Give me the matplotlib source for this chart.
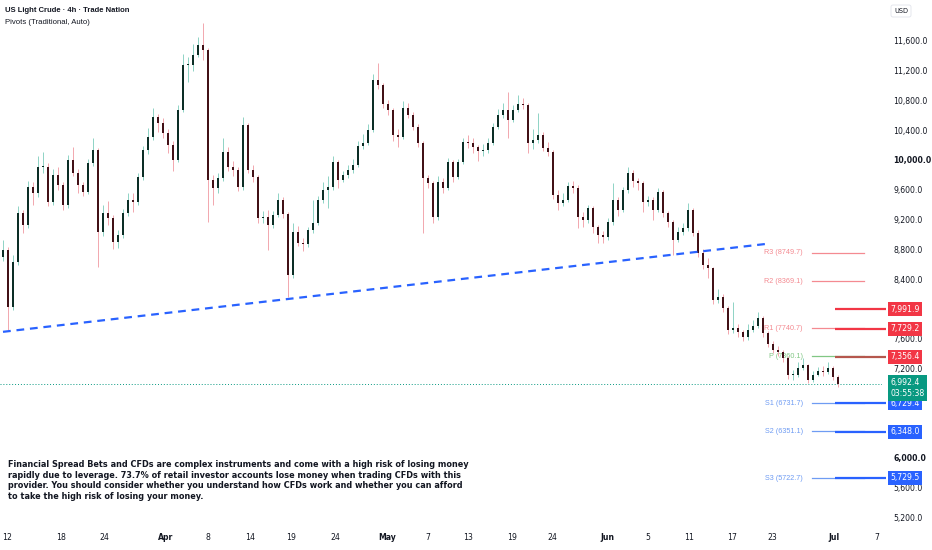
import matplotlib
matplotlib.use("Agg")
import matplotlib.pyplot as plt
import matplotlib.transforms as mtransforms
import numpy as np

# 4h candles, one every ~5px
first_open = 8700
closes = [8790, 8024, 8629, 9287, 9126, 9637, 9556, 9906, 9906, 9435,
          9798, 9664, 9395, 10000, 9825, 9664, 9570, 9960, 10134, 9032,
          9287, 9220, 8898, 8992, 9287, 9462, 9435, 9771, 10134, 10309,
          10578, 10498, 10363, 10202, 10000, 10672, 11277, 11277, 11412, 11546,
          11479, 9731, 9624, 9758, 10108, 9906, 9866, 9637, 10471, 9866,
          9771, 9220, 9234, 9126, 9261, 9462, 9274, 8454, 9032, 8884,
          8871, 9059, 9153, 9462, 9597, 9637, 9973, 9731, 9798, 9866,
          9933, 10188, 10229, 10403, 11076, 11008, 10753, 10672, 10336, 10309,
          10699, 10605, 10444, 10229, 9758, 9691, 9234, 9704, 9624, 9973,
          9771, 9973, 10242, 10229, 10175, 10121, 10134, 10229, 10444, 10605,
          10672, 10538, 10672, 10753, 10740, 10229, 10269, 10336, 10162, 10108,
          9530, 9422, 9462, 9650, 9624, 9234, 9193, 9355, 9099, 8992,
          8965, 9166, 9462, 9328, 9597, 9825, 9718, 9691, 9435, 9462,
          9328, 9570, 9287, 9166, 8924, 9032, 9086, 9328, 9019, 8750,
          8588, 8548, 8118, 8158, 8010, 7714, 7741, 7688, 7620, 7714,
          7768, 7876, 7674, 7527, 7446, 7419, 7338, 7109, 7109, 7204,
          7244, 7042, 7109, 7163, 7150, 7204, 7082, 6992.4]
highs = [8920, 8830, 8720, 9380, 9330, 9720, 9700, 10050, 10110, 9960,
         9880, 9900, 9700, 10070, 10180, 9880, 9700, 10020, 10296, 10160,
         9400, 9450, 9260, 9060, 9340, 9560, 9560, 9820, 10190, 10430,
         10700, 10620, 10560, 10420, 10250, 10740, 11420, 11390, 11560, 11650,
         11842, 11500, 9800, 9820, 10300, 10180, 9990, 9900, 10578, 10500,
         9930, 9800, 9320, 9330, 9320, 9560, 9500, 9300, 9150, 9110,
         8950, 9100, 9460, 9520, 9700, 9780, 10060, 10000, 9850, 9930,
         10020, 10260, 10350, 10480, 11150, 11304, 11040, 10800, 10700, 10420,
         10790, 10760, 10640, 10480, 10260, 9800, 9720, 9780, 9760, 10030,
         10000, 10010, 10300, 10330, 10290, 10200, 10210, 10290, 10500, 10680,
         10760, 10914, 10740, 10880, 10830, 10770, 10420, 10632, 10380, 10240,
         10130, 9600, 9560, 9700, 9720, 9660, 9300, 9400, 9380, 9130,
         9050, 9220, 9691, 9500, 9640, 9906, 9860, 9760, 9720, 9520,
         9500, 9620, 9600, 9320, 9200, 9100, 9150, 9420, 9350, 9060,
         8800, 8680, 8560, 8260, 8200, 8040, 8091, 7800, 7720, 7800,
         7850, 7956, 7900, 7700, 7560, 7500, 7450, 7360, 7180, 7280,
         7340, 7260, 7160, 7220, 7230, 7280, 7230, 7110]
lows = [8640, 7714, 7980, 8590, 9020, 9090, 9400, 9500, 9820, 9380,
        9400, 9600, 9330, 9360, 9780, 9560, 9510, 9540, 9920, 8562,
        8980, 9120, 8800, 8820, 8950, 9250, 9300, 9400, 9730, 10080,
        10270, 10380, 10300, 10100, 9850, 9970, 10640, 11050, 11200, 11380,
        11350, 9166, 9400, 9560, 9720, 9850, 9780, 9580, 9600, 9820,
        9700, 9150, 9150, 8790, 9090, 9230, 9220, 8160, 8420, 8840,
        8780, 8830, 9020, 9120, 9420, 9350, 9600, 9630, 9700, 9760,
        9830, 9900, 10150, 10200, 10380, 10950, 10700, 10600, 10250, 10180,
        10280, 10560, 10400, 10180, 9019, 9620, 9153, 9200, 9560, 9600,
        9700, 9740, 9940, 10160, 10100, 9980, 10060, 10100, 10200, 10420,
        10560, 10300, 10510, 10640, 10680, 10100, 10150, 10230, 10120, 10050,
        9470, 9330, 9380, 9430, 9560, 9080, 9100, 9150, 9020, 8880,
        8884, 8930, 9130, 9250, 9300, 9560, 9640, 9600, 9300, 9380,
        9200, 9300, 9240, 9100, 8723, 8900, 8990, 9050, 8980, 8700,
        8540, 8413, 8060, 8080, 7950, 7660, 7680, 7620, 7560, 7580,
        7690, 7740, 7620, 7480, 7400, 7370, 7290, 7060, 7040, 7080,
        7180, 7000, 7020, 7090, 7100, 7120, 7040, 6950]

# time axis labels
tick_labels = ['12', '18', '24', 'Apr', '8', '14', '19', '24', 'May', '7',
               '13', '19', '24', 'Jun', '5', '11', '17', '23', 'Jul', '7']
tick_pos = [0.8, 11.6, 20.2, 32.6, 41, 49.4, 57.6, 66.4, 76.8, 85,
            93, 101.8, 109.8, 120.8, 129, 137.2, 145.8, 153.8, 166.2, 174.8]
price_ticks = list(range(5200, 11601, 400))
hidden_ticks = [8000, 6800, 6400]  # covered by the price labels

# pivots (Traditional, Auto)
pivot_names = ['R3', 'R2', 'R1', 'P', 'S1', 'S2', 'S3']
pivot_values = [8749.7, 8369.1, 7740.7, 7360.1, 6731.7, 6351.1, 5722.7]
pivot_colors = ['#f48a91', '#f48a91', '#f48a91', '#81c784', '#6f9cf3', '#6f9cf3', '#6f9cf3']

# horizontal price lines with axis labels
level_values = [7991.9, 7729.2, 7356.4, 6729.4, 6348.0, 5729.5]
level_colors = ['#f23645', '#f23645', '#b5574d', '#2962ff', '#2962ff', '#2962ff']
level_box = ['#f23645', '#f23645', '#f23645', '#2962ff', '#2962ff', '#2962ff']

last_price = 6992.4
countdown = '03:55:38'

# rising trendline
trend_x = [0, 152.4]
trend_y = [7690, 8870]

disclaimer = ("Financial Spread Bets and CFDs are complex instruments and come with a high risk of losing money\n"
              "rapidly due to leverage. 73.7% of retail investor accounts lose money when trading CFDs with this\n"
              "provider. You should consider whether you understand how CFDs work and whether you can afford\n"
              "to take the high risk of losing your money.")

fig = plt.figure(figsize=(9.32, 5.5), dpi=100)
ax = fig.add_axes([0, 23 / 550, 882 / 932, 527 / 550])
ax.set_xlim(-0.6, 175.8)
ax.set_ylim(5066, 12151)
for s in ax.spines.values():
    s.set_visible(False)

x = np.arange(len(closes))
opens = np.array([first_open] + closes[:-1], dtype=float)
closes_a = np.array(closes, dtype=float)
up = closes_a >= opens
wick_cols = np.where(up, '#8ed3c5', '#f2a7ae')
body_cols = np.where(up, '#0c2e26', '#421117')
bottoms = np.minimum(opens, closes_a)
heights = np.maximum(np.abs(closes_a - opens), 14)

ax.vlines(x, lows, highs, colors=wick_cols, linewidth=0.7, zorder=2)
ax.bar(x, heights, bottom=bottoms, width=0.45, color=body_cols, linewidth=0, zorder=3)

# trendline
ax.plot(trend_x, trend_y, color='#2962ff', linewidth=1.6, dashes=(3.5, 2.6), zorder=4)

# last price dotted line
ax.axhline(last_price, color='#089981', linewidth=0.7, linestyle=(0, (1, 2)), zorder=1)

# pivot lines and labels
for name, val, col in zip(pivot_names, pivot_values, pivot_colors):
    ax.plot([161.8, 172.2], [val, val], color=col, linewidth=0.9, zorder=2)
    ax.text(160, val, f"{name} ({val:.1f})", color=col, fontsize=5.2,
            family='Liberation Sans', ha='right', va='center', zorder=1)

# price lines
for val, col in zip(level_values, level_colors):
    ax.plot([166.4, 176.5], [val, val], color=col, linewidth=1.6, zorder=5,
            clip_on=False, solid_capstyle='butt')

# axes ticks
ax.yaxis.tick_right()
ax.set_yticks(price_ticks)
ax.set_yticklabels(['' if v in hidden_ticks else f"{v:,.1f}" for v in price_ticks])
ax.tick_params(axis='y', length=0, pad=8, labelsize=5.6, labelcolor='#131722')
for lbl, v in zip(ax.get_yticklabels(), price_ticks):
    if v in (10000, 6000):
        lbl.set_fontweight('bold')
ax.set_xticks(tick_pos)
ax.set_xticklabels(tick_labels)
ax.tick_params(axis='x', length=0, pad=4.5, labelsize=5.6, labelcolor='#131722')
for lbl in ax.get_xticklabels():
    if lbl.get_text() in ('Apr', 'May', 'Jun', 'Jul'):
        lbl.set_fontweight('bold')

trans = mtransforms.blended_transform_factory(ax.transAxes, ax.transData)
for val, col in zip(level_values, level_box):
    ax.text(1.0095, val, f"{val:,.1f}", transform=trans, color='white', fontsize=5.6,
            ha='left', va='center', clip_on=False, zorder=10,
            bbox=dict(boxstyle='square,pad=0.32', fc=col, ec='none'))

shift = mtransforms.offset_copy(trans, fig=fig, x=0, y=-3, units='points')
ax.text(1.0095, last_price, f"{last_price:,.1f}\n{countdown}", transform=shift, color='white',
        fontsize=5.6, ha='left', va='center', clip_on=False, zorder=11, linespacing=1.35,
        bbox=dict(boxstyle='square,pad=0.32', fc='#089981', ec='none'))

# header texts
fig.text(5 / 932, 1 - 10 / 550, "US Light Crude · 4h · Trade Nation", fontsize=5.5,
         fontweight='bold', family='Liberation Sans', color='#131722', va='center')
fig.text(5 / 932, 1 - 23 / 550, "Pivots (Traditional, Auto)", fontsize=5.6,
         family='Liberation Sans', color='#131722', va='center')
fig.text(894 / 932, 1 - 11 / 550, "USD", fontsize=4.8, color='#131722', va='center',
         bbox=dict(boxstyle='round,pad=0.45,rounding_size=0.3', fc='white', ec='#e0e3eb', lw=0.6))

fig.text(8 / 932, 1 - 460 / 550, disclaimer, fontsize=5.85, fontweight='bold',
         color='#131722', va='top', ha='left', linespacing=1.22)

fig.savefig("out.png", dpi=100, facecolor='white')
